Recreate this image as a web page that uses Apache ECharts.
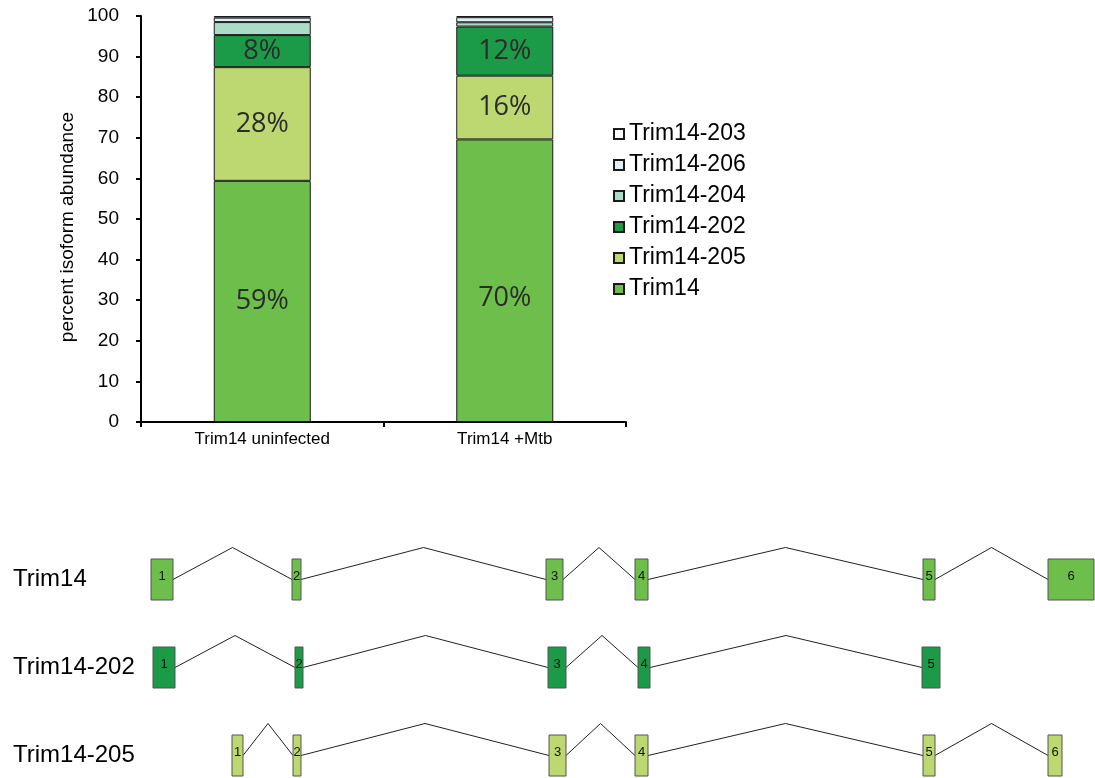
<!DOCTYPE html>
<html>
<head>
<meta charset="utf-8">
<script src="https://cdn.jsdelivr.net/npm/echarts@6/dist/echarts.min.js"></script>
<style>html,body{margin:0;padding:0;background:#fff}#c{width:1095px;height:778px}</style>
</head>
<body>
<div id="c"></div>
<script>
// ---- bar chart data ----
const categories = ['Trim14 uninfected', 'Trim14 +Mtb'];
const isoformNames = ['Trim14', 'Trim14-205', 'Trim14-202', 'Trim14-204', 'Trim14-206', 'Trim14-203'];
const trim14Values = [59.4, 69.6];
const trim205Values = [28.0, 15.7];
const trim202Values = [7.9, 12.1];
const trim204Values = [3.2, 1.05];
const trim206Values = [1.1, 1.25];
const trim203Values = [0.4, 0.3];
const labelledIsoforms = ['Trim14', 'Trim14-205', 'Trim14-202'];

// ---- gene structure data (exon start/end on a shared coordinate) ----
const rowNames = ['Trim14', 'Trim14-202', 'Trim14-205'];
const trim14Exons = [[151, 173], [292, 301], [546, 563], [635, 648], [923, 935], [1048, 1094]];
const trim202Exons = [[153, 175], [295, 303], [548, 566], [638, 650], [922, 940]];
const trim205Exons = [[232, 243], [293, 301], [549, 566], [635, 648], [923, 935], [1048, 1062]];

const colors = {
  'Trim14': '#6dbe4b',
  'Trim14-205': '#bdd870',
  'Trim14-202': '#1b9a48',
  'Trim14-204': '#abdcc8',
  'Trim14-206': '#dff0f4',
  'Trim14-203': '#ffffff'
};
const valuesByName = {
  'Trim14': trim14Values,
  'Trim14-205': trim205Values,
  'Trim14-202': trim202Values,
  'Trim14-204': trim204Values,
  'Trim14-206': trim206Values,
  'Trim14-203': trim203Values
};

const FONT = '"Liberation Sans", Arial, sans-serif';
const EXON_H = 41;
const PEAK = 32;

const barSeries = isoformNames.map(name => ({
  name: name,
  type: 'bar',
  stack: 'total',
  xAxisIndex: 0,
  yAxisIndex: 0,
  barWidth: '40%',
  data: valuesByName[name].map((v, i) =>
    (name === 'Trim14' && i === 1) ? { value: v, label: { offset: [0, 18] } } : v),
  itemStyle: { color: colors[name], borderColor: '#1a1a1a', borderWidth: 1 },
  label: {
    show: labelledIsoforms.indexOf(name) >= 0,
    position: 'inside',
    formatter: p => Math.round(p.value) + '%',
    fontFamily: '"Open Sans", sans-serif',
    fontSize: 27,
    color: '#2b2b2b'
  },
  emphasis: { disabled: true }
}));

function exonData(exons, row) {
  return exons.map((e, i) => [e[0], e[1], row, i + 1, i + 1 < exons.length ? exons[i + 1][0] : -1]);
}

function renderExon(color) {
  return function (params, api) {
    const row = api.value(2);
    const s = api.coord([api.value(0), row]);
    const e = api.coord([api.value(1), row]);
    const cy = s[1];
    const children = [];
    const next = api.value(4);
    if (next >= 0) {
      const n = api.coord([next, row]);
      children.push({
        type: 'polyline',
        shape: { points: [[e[0], cy], [(e[0] + n[0]) / 2, cy - PEAK], [n[0], cy]] },
        style: { stroke: '#222', lineWidth: 1, fill: null }
      });
    }
    children.push({
      type: 'rect',
      shape: { x: s[0], y: cy - EXON_H / 2, width: e[0] - s[0], height: EXON_H },
      style: { fill: color, stroke: '#555', lineWidth: 1 }
    });
    children.push({
      type: 'text',
      style: {
        x: (s[0] + e[0]) / 2, y: cy - 3, text: String(api.value(3)),
        align: 'center', verticalAlign: 'middle',
        font: '13px "Liberation Sans", Arial, sans-serif', fill: '#111'
      }
    });
    return { type: 'group', children: children };
  };
}

const geneSeries = [
  [trim14Exons, 0, colors['Trim14']],
  [trim202Exons, 1, colors['Trim14-202']],
  [trim205Exons, 2, colors['Trim14-205']]
].map(([exons, row, color]) => ({
  type: 'custom',
  xAxisIndex: 1,
  yAxisIndex: 1,
  clip: false,
  silent: true,
  encode: { x: [0, 1], y: 2 },
  data: exonData(exons, row),
  renderItem: renderExon(color)
}));

const chart = echarts.init(document.getElementById('c'), null, { renderer: 'canvas' });
chart.setOption({
  animation: false,
  backgroundColor: '#fff',
  textStyle: { fontFamily: FONT },
  grid: [
    { left: 141, right: 469, top: 16, bottom: 356 },
    { left: 0, right: 0, top: 579.5, bottom: 22.5 }
  ],
  legend: {
    orient: 'vertical',
    left: 608,
    top: 117.5,
    itemWidth: 10,
    itemHeight: 10,
    itemGap: 8,
    icon: 'rect',
    data: isoformNames.slice().reverse(),
    textStyle: { fontFamily: FONT, fontSize: 23, color: '#000' }
  },
  xAxis: [
    {
      gridIndex: 0,
      type: 'category',
      data: categories,
      axisLine: { lineStyle: { color: '#000', width: 2 } },
      axisTick: { show: true, length: 5, lineStyle: { color: '#000', width: 2 } },
      axisLabel: { fontFamily: FONT, fontSize: 17, color: '#000', margin: 9 }
    },
    { gridIndex: 1, type: 'value', min: 0, max: 1095, show: false }
  ],
  yAxis: [
    {
      gridIndex: 0,
      type: 'value',
      min: 0,
      max: 100,
      interval: 10,
      name: 'percent isoform abundance',
      nameLocation: 'middle',
      nameGap: 64,
      nameTextStyle: { fontFamily: FONT, fontSize: 19, color: '#000', padding: [0, 16, 0, 0] },
      axisLine: { show: true, lineStyle: { color: '#000', width: 2 } },
      axisTick: { show: true, length: 5, lineStyle: { color: '#000', width: 2 } },
      axisLabel: { fontFamily: FONT, fontSize: 19, color: '#000', margin: 22 },
      splitLine: { show: false }
    },
    {
      gridIndex: 1,
      type: 'category',
      data: rowNames,
      inverse: true,
      boundaryGap: false,
      axisLine: { show: false },
      axisTick: { show: false },
      splitLine: { show: false },
      axisLabel: { inside: true, margin: 13, fontFamily: FONT, fontSize: 24, color: '#000' }
    }
  ],
  series: barSeries.concat(geneSeries)
});
</script>
</body>
</html>
